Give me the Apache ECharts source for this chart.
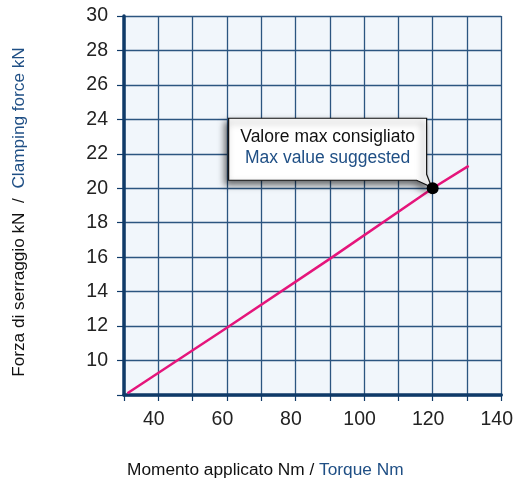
<!DOCTYPE html>
<html>
<head>
<meta charset="utf-8">
<script src="https://cdn.jsdelivr.net/npm/echarts@6/dist/echarts.min.js"></script>
<style>html,body{margin:0;padding:0;background:#fff}#c{width:516px;height:483px}</style>
</head>
<body>
<div id="c"></div>
<script>
// Data
const torqueNm = [31, 60, 90, 120, 130.5];
const clampingKN = [8.1, 11.9, 15.9, 20.0, 21.3];
const maxPoint = [120, 20];
const xTickLabels = [40, 60, 80, 100, 120, 140];
const yTickLabels = [10, 12, 14, 16, 18, 20, 22, 24, 26, 28, 30];
const calloutLines = ['Valore max consigliato', 'Max value suggested'];
const yTitle = ['Forza di serraggio kN', 'Clamping force kN'];
const xTitle = ['Momento applicato Nm', 'Torque Nm'];

const NAVY = '#0f3a68';
const GRIDC = '#2c5580';
const BLUE = '#1f4f85';
const SANS = '"Liberation Sans", Arial, sans-serif';

const chart = echarts.init(document.getElementById('c'), null, {renderer: 'canvas'});
chart.setOption({
  animation: false,
  backgroundColor: '#ffffff',
  grid: {left: 124, right: 13, top: 16, bottom: 88, show: true, backgroundColor: '#f1f6fb', borderWidth: 0},
  xAxis: {
    type: 'value', min: 30, max: 140, interval: 10,
    axisLine: {show: true, onZero: false, lineStyle: {color: NAVY, width: 3.5}},
    axisTick: {show: true, inside: false, length: 6, lineStyle: {color: NAVY, width: 1.2}},
    splitLine: {show: true, lineStyle: {color: GRIDC, width: 1.3}},
    axisLabel: {
      margin: 15, color: '#222', fontFamily: SANS, fontSize: 19.5, padding: [0, 9, 0, 0],
      formatter: v => xTickLabels.indexOf(v) >= 0 ? String(v) : ''
    }
  },
  yAxis: {
    type: 'value', min: 8, max: 30, interval: 2,
    axisLine: {show: true, onZero: false, lineStyle: {color: NAVY, width: 3.5}},
    axisTick: {show: true, inside: false, length: 7, lineStyle: {color: NAVY, width: 1.2}},
    splitLine: {show: true, lineStyle: {color: GRIDC, width: 1.3}},
    axisLabel: {
      margin: 16, color: '#222', fontFamily: SANS, fontSize: 19.5,
      formatter: v => yTickLabels.indexOf(v) >= 0 ? String(v) : ''
    }
  },
  graphic: [{
    type: 'text', left: 127, top: 462,
    style: {
      text: '{a|' + xTitle[0] + ' / }{b|' + xTitle[1] + '}',
      rich: {
        a: {fill: '#111', fontFamily: SANS, fontSize: 17.3},
        b: {fill: BLUE, fontFamily: SANS, fontSize: 17.3}
      }
    }
  }, {
    type: 'text', x: 19, y: 212, rotation: Math.PI / 2,
    style: {
      text: '{a|' + yTitle[0] + '  /  }{b|' + yTitle[1] + '}',
      align: 'center', verticalAlign: 'middle',
      rich: {
        a: {fill: '#111', fontFamily: SANS, fontSize: 17.2},
        b: {fill: BLUE, fontFamily: SANS, fontSize: 17.2}
      }
    }
  }],
  series: [{
    type: 'line',
    data: torqueNm.map((x, i) => [x, clampingKN[i]]),
    showSymbol: false, symbol: 'none',
    lineStyle: {color: '#e5157b', width: 2.5},
    z: 3
  }, {
    type: 'custom',
    data: [maxPoint],
    z: 10,
    renderItem: function (params, api) {
      const p = api.coord([api.value(0), api.value(1)]);
      const x = p[0], y = p[1];
      const L = x - 204, R = x - 6, T = y - 70, B = y - 8;
      return {
        type: 'group',
        children: [{
          type: 'polygon',
          shape: {points: [[L, T], [R, T], [R, B - 6], [x - 1, y - 1], [R - 10, B], [L, B]]},
          style: {fill: '#fff', stroke: '#111', lineWidth: 1.2,
            shadowBlur: 7, shadowColor: 'rgba(0,0,0,0.6)', shadowOffsetX: -3, shadowOffsetY: 4}
        }, {
          type: 'text',
          style: {text: calloutLines[0], x: (L + R) / 2, y: T + 19, align: 'center', verticalAlign: 'middle',
            fill: '#111', font: '17.5px ' + SANS}
        }, {
          type: 'text',
          style: {text: calloutLines[1], x: (L + R) / 2, y: T + 40, align: 'center', verticalAlign: 'middle',
            fill: BLUE, font: '17.5px ' + SANS}
        }, {
          type: 'circle',
          shape: {cx: x, cy: y, r: 6},
          style: {fill: '#000'}
        }]
      };
    }
  }]
});
</script>
</body>
</html>
